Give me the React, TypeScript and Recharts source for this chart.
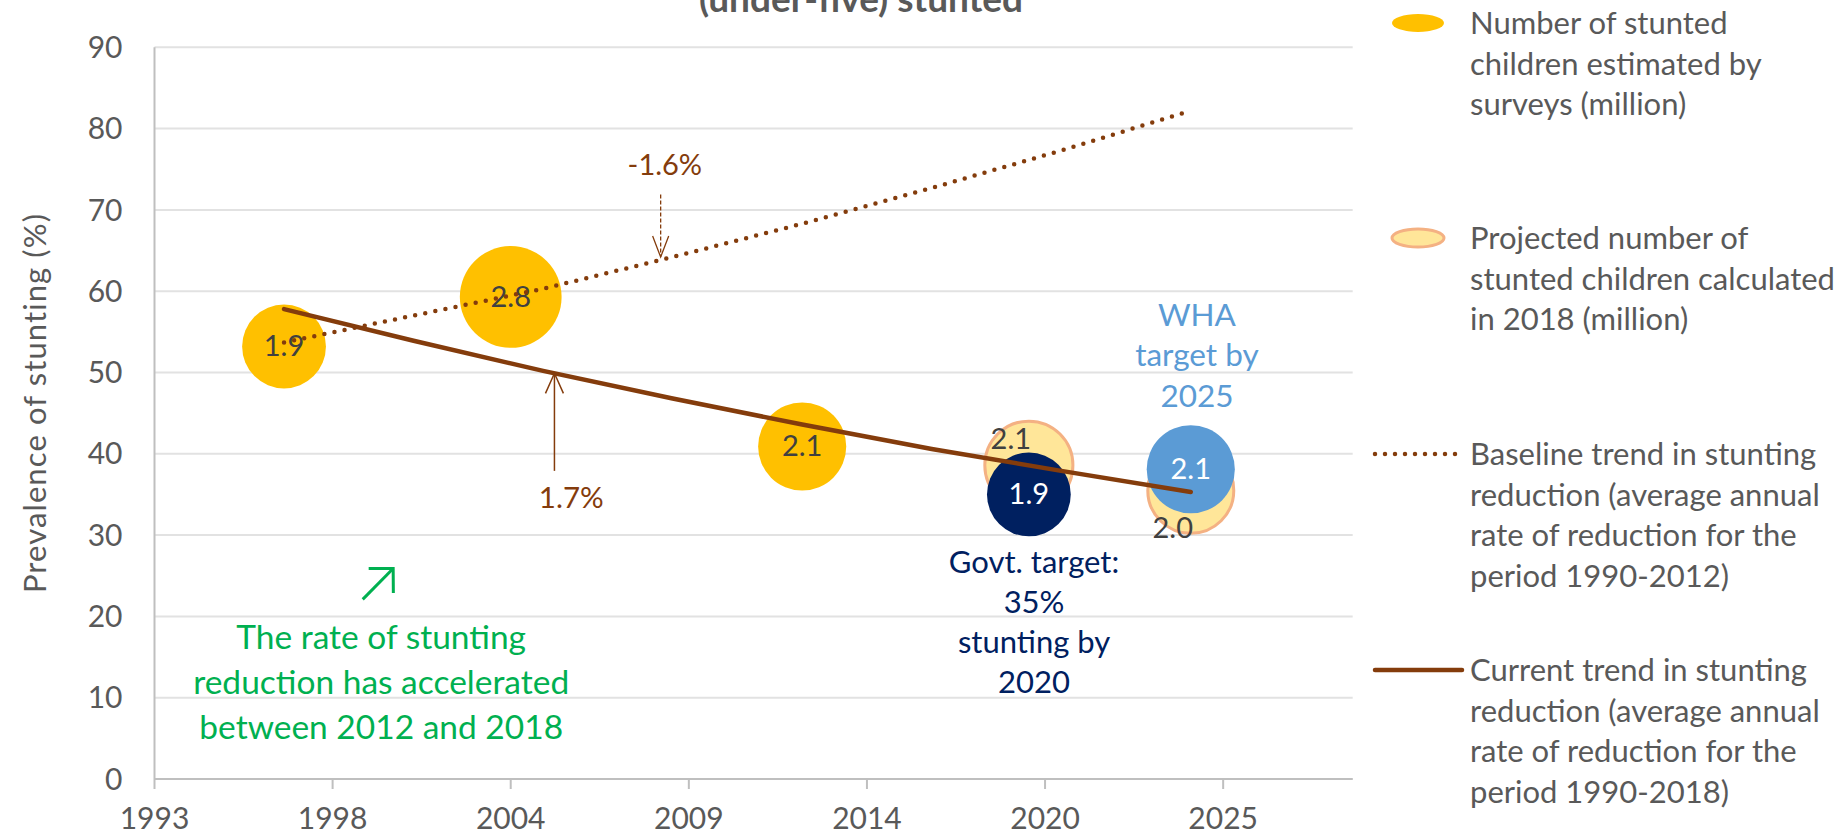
import React from "react";
import {
  ScatterChart,
  Scatter,
  XAxis,
  YAxis,
  ZAxis,
  CartesianGrid,
  ReferenceDot,
  ReferenceLine,
} from "recharts";

const FONT = "Lato, 'Open Sans', sans-serif";
const GREY = "#595959";
const BROWN = "#843C0C";

// survey estimates: year, % stunted, stunted children (million)
const surveyYears = [1997, 2004, 2013];
const surveyPrevalence = [53.2, 59.3, 40.9];
const surveyMillions = [1.9, 2.8, 2.1];

// projected in 2018
const projectedYears = [2020, 2025];
const projectedPrevalence = [38.6, 35.5];
const projectedMillions = [2.1, 2.0];

// targets
const govtYears = [2020];
const govtPrevalence = [35.0];
const govtMillions = [1.9];
const whaYears = [2025];
const whaPrevalence = [38.1];
const whaMillions = [2.1];

// trend lines
const trendYears = [1997, 2001, 2005, 2009, 2013, 2017, 2021, 2025];
const baselineTrend = [53.7, 57.0, 60.3, 64.2, 68.3, 72.7, 77.3, 82.2];
const currentTrend = [57.8, 53.9, 50.2, 46.8, 43.6, 40.6, 37.9, 35.3];

const xTicks = [1993, 1998.5, 2004, 2009.5, 2015, 2020.5, 2026];
const xTickLabels = ["1993", "1998", "2004", "2009", "2014", "2020", "2025"];
const yTicks = [0, 10, 20, 30, 40, 50, 60, 70, 80, 90];

const toPoints = (xs: number[], ys: number[], zs?: number[]) =>
  xs.map((x, i) => ({ x, y: ys[i], z: zs ? zs[i] : undefined }));

const noDot = () => <g />;

// bubble + its data label; label nudges keyed by year (moved by hand in the original)
function bubble(fill: string, stroke: string, labelColor: string, nudge: Record<number, [number, number]> = {}) {
  return (p: any) => {
    const r = p.size ? Math.sqrt(p.size / Math.PI) : p.width / 2;
    const [dx, dy] = nudge[p.payload.x] || [0, 0];
    return (
      <g>
        <circle cx={p.cx} cy={p.cy} r={r} fill={fill} stroke={stroke} strokeWidth={stroke === "none" ? 0 : 3} />
        <text x={p.cx + dx} y={p.cy + dy + 10} textAnchor="middle" fill={labelColor} fontSize={29} fontFamily={FONT}>
          {p.payload.z.toFixed(1)}
        </text>
      </g>
    );
  };
}

function note(lines: string[], color: string, size: number, lh: number) {
  return (p: any) => (
    <text x={p.cx} y={p.cy} textAnchor="middle" fill={color} fontSize={size} fontFamily={FONT}>
      {lines.map((l, i) => (
        <tspan key={i} x={p.cx} dy={i === 0 ? 0 : lh}>
          {l}
        </tspan>
      ))}
    </text>
  );
}

function arrow(color: string, width: number, headLen: number, headAngle: number, dash?: string) {
  return (p: any) => {
    const { x1, y1, x2, y2 } = p;
    const a = Math.atan2(y2 - y1, x2 - x1);
    const ax = x2 - headLen * Math.cos(a - headAngle);
    const ay = y2 - headLen * Math.sin(a - headAngle);
    const bx = x2 - headLen * Math.cos(a + headAngle);
    const by = y2 - headLen * Math.sin(a + headAngle);
    return (
      <g>
        <line x1={x1} y1={y1} x2={x2} y2={y2} stroke={color} strokeWidth={width} strokeDasharray={dash} />
        <polyline points={`${ax},${ay} ${x2},${y2} ${bx},${by}`} fill="none" stroke={color} strokeWidth={width} />
      </g>
    );
  };
}

const legendItems = [
  { kind: "bubble", fill: "#FFC000", stroke: "none", lines: ["Number of stunted", "children estimated by", "surveys (million)"], top: 34 },
  { kind: "bubble", fill: "#FFE699", stroke: "#F4B183", lines: ["Projected number of", "stunted children calculated", "in 2018 (million)"], top: 249 },
  { kind: "dots", lines: ["Baseline trend in stunting", "reduction (average annual", "rate of reduction for the", "period 1990-2012)"], top: 465 },
  { kind: "solid", lines: ["Current trend in stunting", "reduction (average annual", "rate of reduction for the", "period 1990-2018)"], top: 681 },
];

function Overlay() {
  return (
    <svg width={1842} height={838} style={{ position: "absolute", left: 0, top: 0, pointerEvents: "none" }}>
      <text x={861} y={12} textAnchor="middle" fontWeight="bold" fontSize={37} fill={GREY} fontFamily={FONT}>
        (under-five) stunted
      </text>
      <text
        transform="translate(46,403) rotate(-90)"
        textAnchor="middle"
        fontSize={31}
        letterSpacing={1.1}
        fill={GREY}
        fontFamily={FONT}
      >
        Prevalence of stunting (%)
      </text>
      {legendItems.map((it) => {
        const my = it.top - 11;
        return (
          <g key={it.top}>
            {it.kind === "bubble" && (
              <ellipse cx={1418} cy={my} rx={26} ry={9} fill={it.fill} stroke={it.stroke} strokeWidth={it.stroke === "none" ? 0 : 3} />
            )}
            {it.kind === "dots" && (
              <line x1={1375} y1={my} x2={1460} y2={my} stroke={BROWN} strokeWidth={4.5} strokeDasharray="0 10" strokeLinecap="round" />
            )}
            {it.kind === "solid" && <line x1={1375} y1={my} x2={1462} y2={my} stroke={BROWN} strokeWidth={4.5} strokeLinecap="round" />}
            <text x={1470} y={it.top} fontSize={31} fill={GREY} fontFamily={FONT}>
              {it.lines.map((l, i) => (
                <tspan key={i} x={1470} dy={i === 0 ? 0 : 40.5}>
                  {l}
                </tspan>
              ))}
            </text>
          </g>
        );
      })}
    </svg>
  );
}

export default function App() {
  return (
    <div style={{ position: "absolute", left: 0, top: 0, width: 1842, height: 838, background: "#fff" }}>
      <ScatterChart width={1842} height={838} margin={{ top: 47.3, right: 489.3, bottom: 0, left: 0 }}>
        <CartesianGrid vertical={false} stroke="#E2E2E2" strokeWidth={2} />
        <XAxis
          type="number"
          dataKey="x"
          domain={[1993, 2030]}
          ticks={xTicks}
          allowDataOverflow
          tickFormatter={(_v: number, i: number) => xTickLabels[i]}
          height={59}
          axisLine={{ stroke: "#BFBFBF", strokeWidth: 2 }}
          tickLine={{ stroke: "#BFBFBF", strokeWidth: 2 }}
          tickSize={10}
          tickMargin={19}
          tick={{ fill: GREY, fontSize: 30, fontFamily: FONT }}
        />
        <YAxis
          type="number"
          dataKey="y"
          domain={[0, 90]}
          ticks={yTicks}
          width={154.5}
          axisLine={{ stroke: "#BFBFBF", strokeWidth: 2 }}
          tickLine={false}
          tickSize={0}
          tickMargin={32}
          tick={{ fill: GREY, fontSize: 30, fontFamily: FONT }}
        />
        <ZAxis type="number" dataKey="z" domain={[0, 3]} range={[0, 8709]} />

        <Scatter data={toPoints(surveyYears, surveyPrevalence, surveyMillions)} shape={bubble("#FFC000", "none", "#404040")} isAnimationActive={false} />
        <Scatter
          data={toPoints(projectedYears, projectedPrevalence, projectedMillions)}
          shape={bubble("#FFE699", "#F4B183", "#404040", { 2020: [-18, -26], 2025: [-18, 38] })}
          isAnimationActive={false}
        />
        <Scatter data={toPoints(govtYears, govtPrevalence, govtMillions)} shape={bubble("#002060", "none", "#FFFFFF")} isAnimationActive={false} />
        <Scatter data={toPoints(whaYears, whaPrevalence, whaMillions)} shape={bubble("#5B9BD5", "none", "#FFFFFF")} isAnimationActive={false} />

        <Scatter
          data={toPoints(trendYears, baselineTrend)}
          shape={noDot}
          line={{ stroke: BROWN, strokeWidth: 4.5, strokeDasharray: "0 10.3", strokeLinecap: "round" }}
          isAnimationActive={false}
        />
        <Scatter
          data={toPoints(trendYears, currentTrend)}
          shape={noDot}
          line={{ stroke: BROWN, strokeWidth: 4.5, strokeLinecap: "round" }}
          isAnimationActive={false}
        />

        <ReferenceLine segment={[{ x: 2008.63, y: 71.9 }, { x: 2008.63, y: 64.2 }]} shape={arrow(BROWN, 1.3, 22.5, 0.365, "4 2")} />
        <ReferenceLine segment={[{ x: 2005.35, y: 37.9 }, { x: 2005.35, y: 49.9 }]} shape={arrow(BROWN, 1.5, 22, 0.42)} />
        <ReferenceLine segment={[{ x: 1999.43, y: 22.1 }, { x: 2000.37, y: 25.9 }]} shape={arrow("#00B050", 3, 24.5, Math.PI / 4)} />

        <ReferenceDot x={2008.76} y={74.3} r={0} shape={note(["-1.6%"], BROWN, 29, 0)} />
        <ReferenceDot x={2005.87} y={33.3} r={0} shape={note(["1.7%"], BROWN, 29.5, 0)} />
        <ReferenceDot
          x={2000}
          y={16.05}
          r={0}
          shape={note(["The rate of stunting", "reduction has accelerated", "between 2012 and 2018"], "#00B050", 33.5, 45)}
        />
        <ReferenceDot x={2020.16} y={25.37} r={0} shape={note(["Govt. target:", "35%", "stunting by", "2020"], "#002060", 31, 40.2)} />
        <ReferenceDot x={2025.19} y={55.7} r={0} shape={note(["WHA", "target by", "2025"], "#5B9BD5", 31.5, 40.3)} />
      </ScatterChart>
      <Overlay />
    </div>
  );
}
